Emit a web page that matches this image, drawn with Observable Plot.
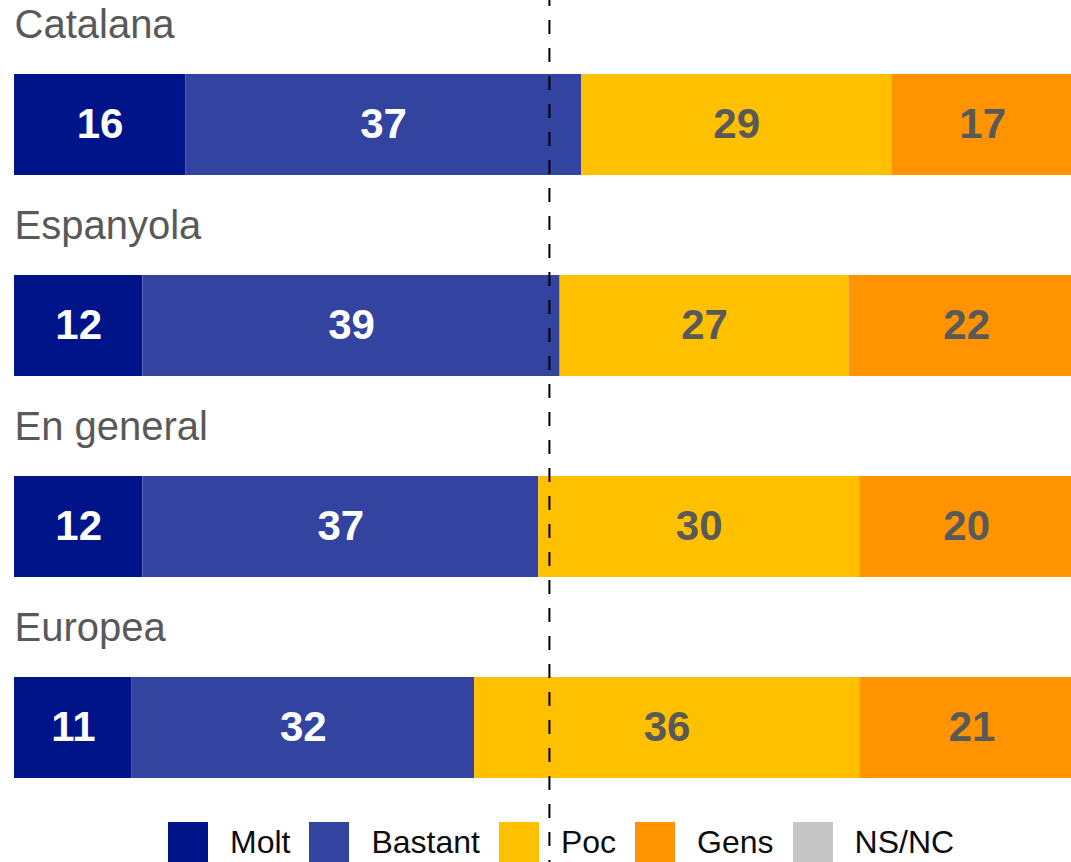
<!DOCTYPE html>
<html>
<head>
<meta charset="utf-8">
<script src="https://cdn.jsdelivr.net/npm/d3@7"></script>
<script src="https://cdn.jsdelivr.net/npm/@observablehq/plot@0.6"></script>
<style>
  html, body { margin: 0; padding: 0; background: #fff; overflow: hidden; }
  #wrap { position: relative; width: 1071px; height: 862px; font-family: "Liberation Sans", Arial, sans-serif; }
  #legend { position: absolute; left: 168px; top: 822px; display: flex; align-items: center; height: 40px; }
  .item { display: flex; align-items: center; }
  .sw { width: 40px; height: 40px; margin-right: 22px; }
  .lab { font-size: 32px; color: #0d0d0d; margin-right: 19px; line-height: 40px; white-space: nowrap; }
</style>
</head>
<body>
<div id="wrap"></div>
<script>
const categories = ["Catalana", "Espanyola", "En general", "Europea"];
const responses = ["Molt", "Bastant", "Poc", "Gens", "NS/NC"];
const colors = ["#001489", "#3344A0", "#FFC000", "#FF9400", "#C6C6C6"];
const molt    = [16, 12, 12, 11];
const bastant = [37, 39, 37, 32];
const poc     = [29, 27, 30, 36];
const gens    = [17, 22, 20, 21];
const nsnc    = [1, 0, 1, 0];
const lightText = ["Molt", "Bastant"];
const darkText = ["Poc", "Gens"];

const seriesValues = [molt, bastant, poc, gens, nsnc];
const data = [];
categories.forEach((cat, i) => {
  responses.forEach((resp, j) => {
    data.push({cat, resp, value: seriesValues[j][i]});
  });
});

const font = '"Liberation Sans", Arial, sans-serif';

const chart = Plot.plot({
  width: 1071,
  height: 862,
  marginTop: 74,
  marginBottom: 84,
  marginLeft: 14,
  marginRight: 0,
  style: {fontFamily: font, overflow: "hidden", background: "#fff"},
  x: {domain: [0, 98.8], axis: null},
  y: {domain: categories, axis: null, paddingInner: 100 / 201, paddingOuter: 0},
  color: {domain: responses, range: colors},
  marks: [
    Plot.barX(data, Plot.stackX({x: "value", y: "cat", fill: "resp"})),
    Plot.textX(data, Plot.stackX({
      x: "value", y: "cat", z: "resp",
      text: d => lightText.includes(d.resp) ? String(d.value) : null,
      fill: "white", fontSize: 42, fontWeight: "bold"
    })),
    Plot.textX(data, Plot.stackX({
      x: "value", y: "cat", z: "resp",
      text: d => darkText.includes(d.resp) ? String(d.value) : null,
      fill: "#595959", fontSize: 42, fontWeight: "bold"
    })),
    Plot.text(categories, {
      y: d => d, text: d => d, frameAnchor: "left", textAnchor: "start",
      dy: -100, fontSize: 40, fill: "#595959"
    }),
    Plot.ruleX([50], {
      stroke: "#000", strokeWidth: 2, strokeDasharray: "14,14", strokeDashoffset: 8,
      insetTop: -74, insetBottom: -84
    })
  ]
});

const wrap = document.getElementById("wrap");
wrap.appendChild(chart);

const scale = chart.scale("color");
const legend = document.createElement("div");
legend.id = "legend";
scale.domain.forEach((name, i) => {
  const item = document.createElement("div");
  item.className = "item";
  const sw = document.createElement("div");
  sw.className = "sw";
  sw.style.background = scale.range[i];
  const lab = document.createElement("span");
  lab.className = "lab";
  lab.textContent = name;
  item.appendChild(sw);
  item.appendChild(lab);
  legend.appendChild(item);
});
wrap.appendChild(legend);
</script>
</body>
</html>
